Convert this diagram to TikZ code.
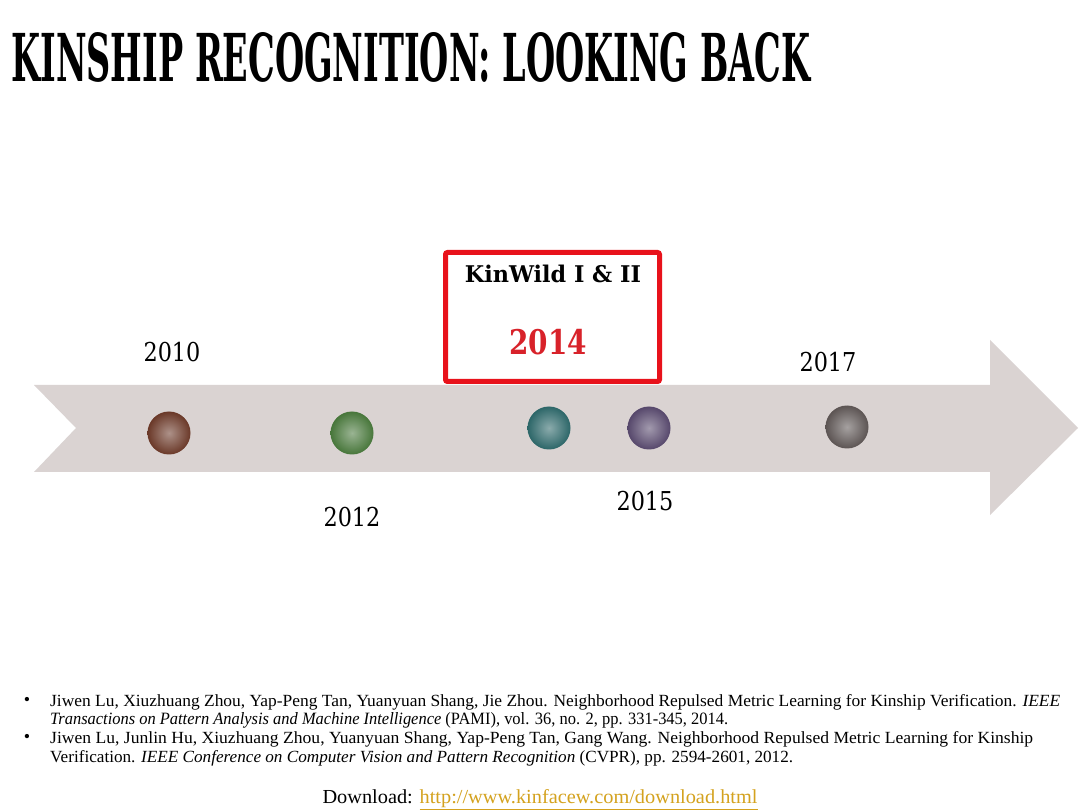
\documentclass[tikz,border=0pt]{standalone}
\usepackage{fontspec}
\setmainfont{Liberation Serif}
\newfontfamily\slab{DejaVu Serif}
\usepackage{graphicx}
\definecolor{band}{HTML}{DAD3D2}
\definecolor{boxred}{HTML}{E8121B}
\definecolor{yred}{HTML}{D8222A}
\definecolor{cbrown}{HTML}{6A3828}
\definecolor{cgreen}{HTML}{47763A}
\definecolor{cteal}{HTML}{2C6668}
\definecolor{cpurple}{HTML}{56476B}
\definecolor{cgray}{HTML}{5C5453}
\definecolor{linkgold}{HTML}{D4A21E}
\newcommand{\yrtext}[1]{\scalebox{0.86}[1]{\fontsize{26}{30}\selectfont\slab #1}}
\tikzset{
  dot/.style={circle, minimum size=43pt, inner sep=0pt, draw=none,
    inner color=#1!55!white, outer color=#1, shading=radial},
  yearlbl/.style={anchor=base, inner sep=0pt},
  refline/.style={anchor=base west, inner sep=0pt},
}
\begin{document}
\begin{tikzpicture}[x=1pt,y=-1pt]
\useasboundingbox[fill=white] (0,0) rectangle (1080,810);
% title
\node[anchor=base west, inner sep=0pt] (title) at (11,82)
  {\resizebox{799pt}{49pt}{\slab\bfseries KINSHIP RECOGNITION: LOOKING BACK}};
% timeline arrow
\fill[band] (34,385) -- (990,385) -- (990,340) -- (1078,428) -- (990,515)
  -- (990,472) -- (34,472) -- (76,428) -- cycle;
% dots
\node[dot=cbrown] (d1) at (169,433) {};
\node[dot=cgreen] (d2) at (352,433) {};
\node[dot=cteal] (d3) at (549,428) {};
\node[dot=cpurple] (d4) at (649,428) {};
\node[dot=cgray] (d5) at (847,427) {};
% years
\node[yearlbl] (y2010) at (172,362) {\yrtext{2010}};
\node[yearlbl] (y2012) at (352,526) {\yrtext{2012}};
\node[yearlbl] (y2015) at (645,511) {\yrtext{2015}};
\node[yearlbl] (y2017) at (828,372) {\yrtext{2017}};
% highlight box
\node[draw=boxred, line width=5pt, rounded corners=2pt, minimum width=214pt,
  minimum height=129pt, inner sep=0pt] (hbox) at (552.5,317) {};
\node[yearlbl] (kw) at (553,283)
  {\scalebox{0.97}[1]{\fontsize{23}{26}\selectfont\slab\bfseries KinWild I \& II}};
\node[yearlbl] (y2014) at (548,355)
  {\scalebox{0.82}[1]{\fontsize{34}{38}\selectfont\slab\bfseries\color{yred}2014}};
% references
\node[anchor=base, inner sep=0pt] (b1) at (27,705) {\fontsize{18}{20}\selectfont •};
\node[anchor=base, inner sep=0pt] (b2) at (27,742) {\fontsize{18}{20}\selectfont •};
\node[refline] (r1) at (50,706) {\resizebox{1010pt}{12pt}{\fontsize{17}{20}\selectfont Jiwen Lu, Xiuzhuang Zhou, Yap-Peng Tan, Yuanyuan Shang, Jie Zhou. Neighborhood Repulsed Metric Learning for Kinship Verification. \textit{IEEE}}};
\node[refline] (r2) at (50,724) {\resizebox{678pt}{12pt}{\fontsize{17}{20}\selectfont \textit{Transactions on Pattern Analysis and Machine Intelligence} (PAMI), vol. 36, no. 2, pp. 331-345, 2014.}};
\node[refline] (r3) at (50,743) {\resizebox{983pt}{12pt}{\fontsize{17}{20}\selectfont Jiwen Lu, Junlin Hu, Xiuzhuang Zhou, Yuanyuan Shang, Yap-Peng Tan, Gang Wang. Neighborhood Repulsed Metric Learning for Kinship}};
\node[refline] (r4) at (50,762) {\resizebox{743pt}{12pt}{\fontsize{17}{20}\selectfont Verification. \textit{IEEE Conference on Computer Vision and Pattern Recognition} (CVPR), pp. 2594-2601, 2012.}};
\node[anchor=base, inner sep=0pt] (dl) at (540,803) {\resizebox{435pt}{14pt}{\fontsize{18}{22}\selectfont Download: \textcolor{linkgold}{\underline{http://www.kinfacew.com/download.html}}}};
\end{tikzpicture}
\end{document}
